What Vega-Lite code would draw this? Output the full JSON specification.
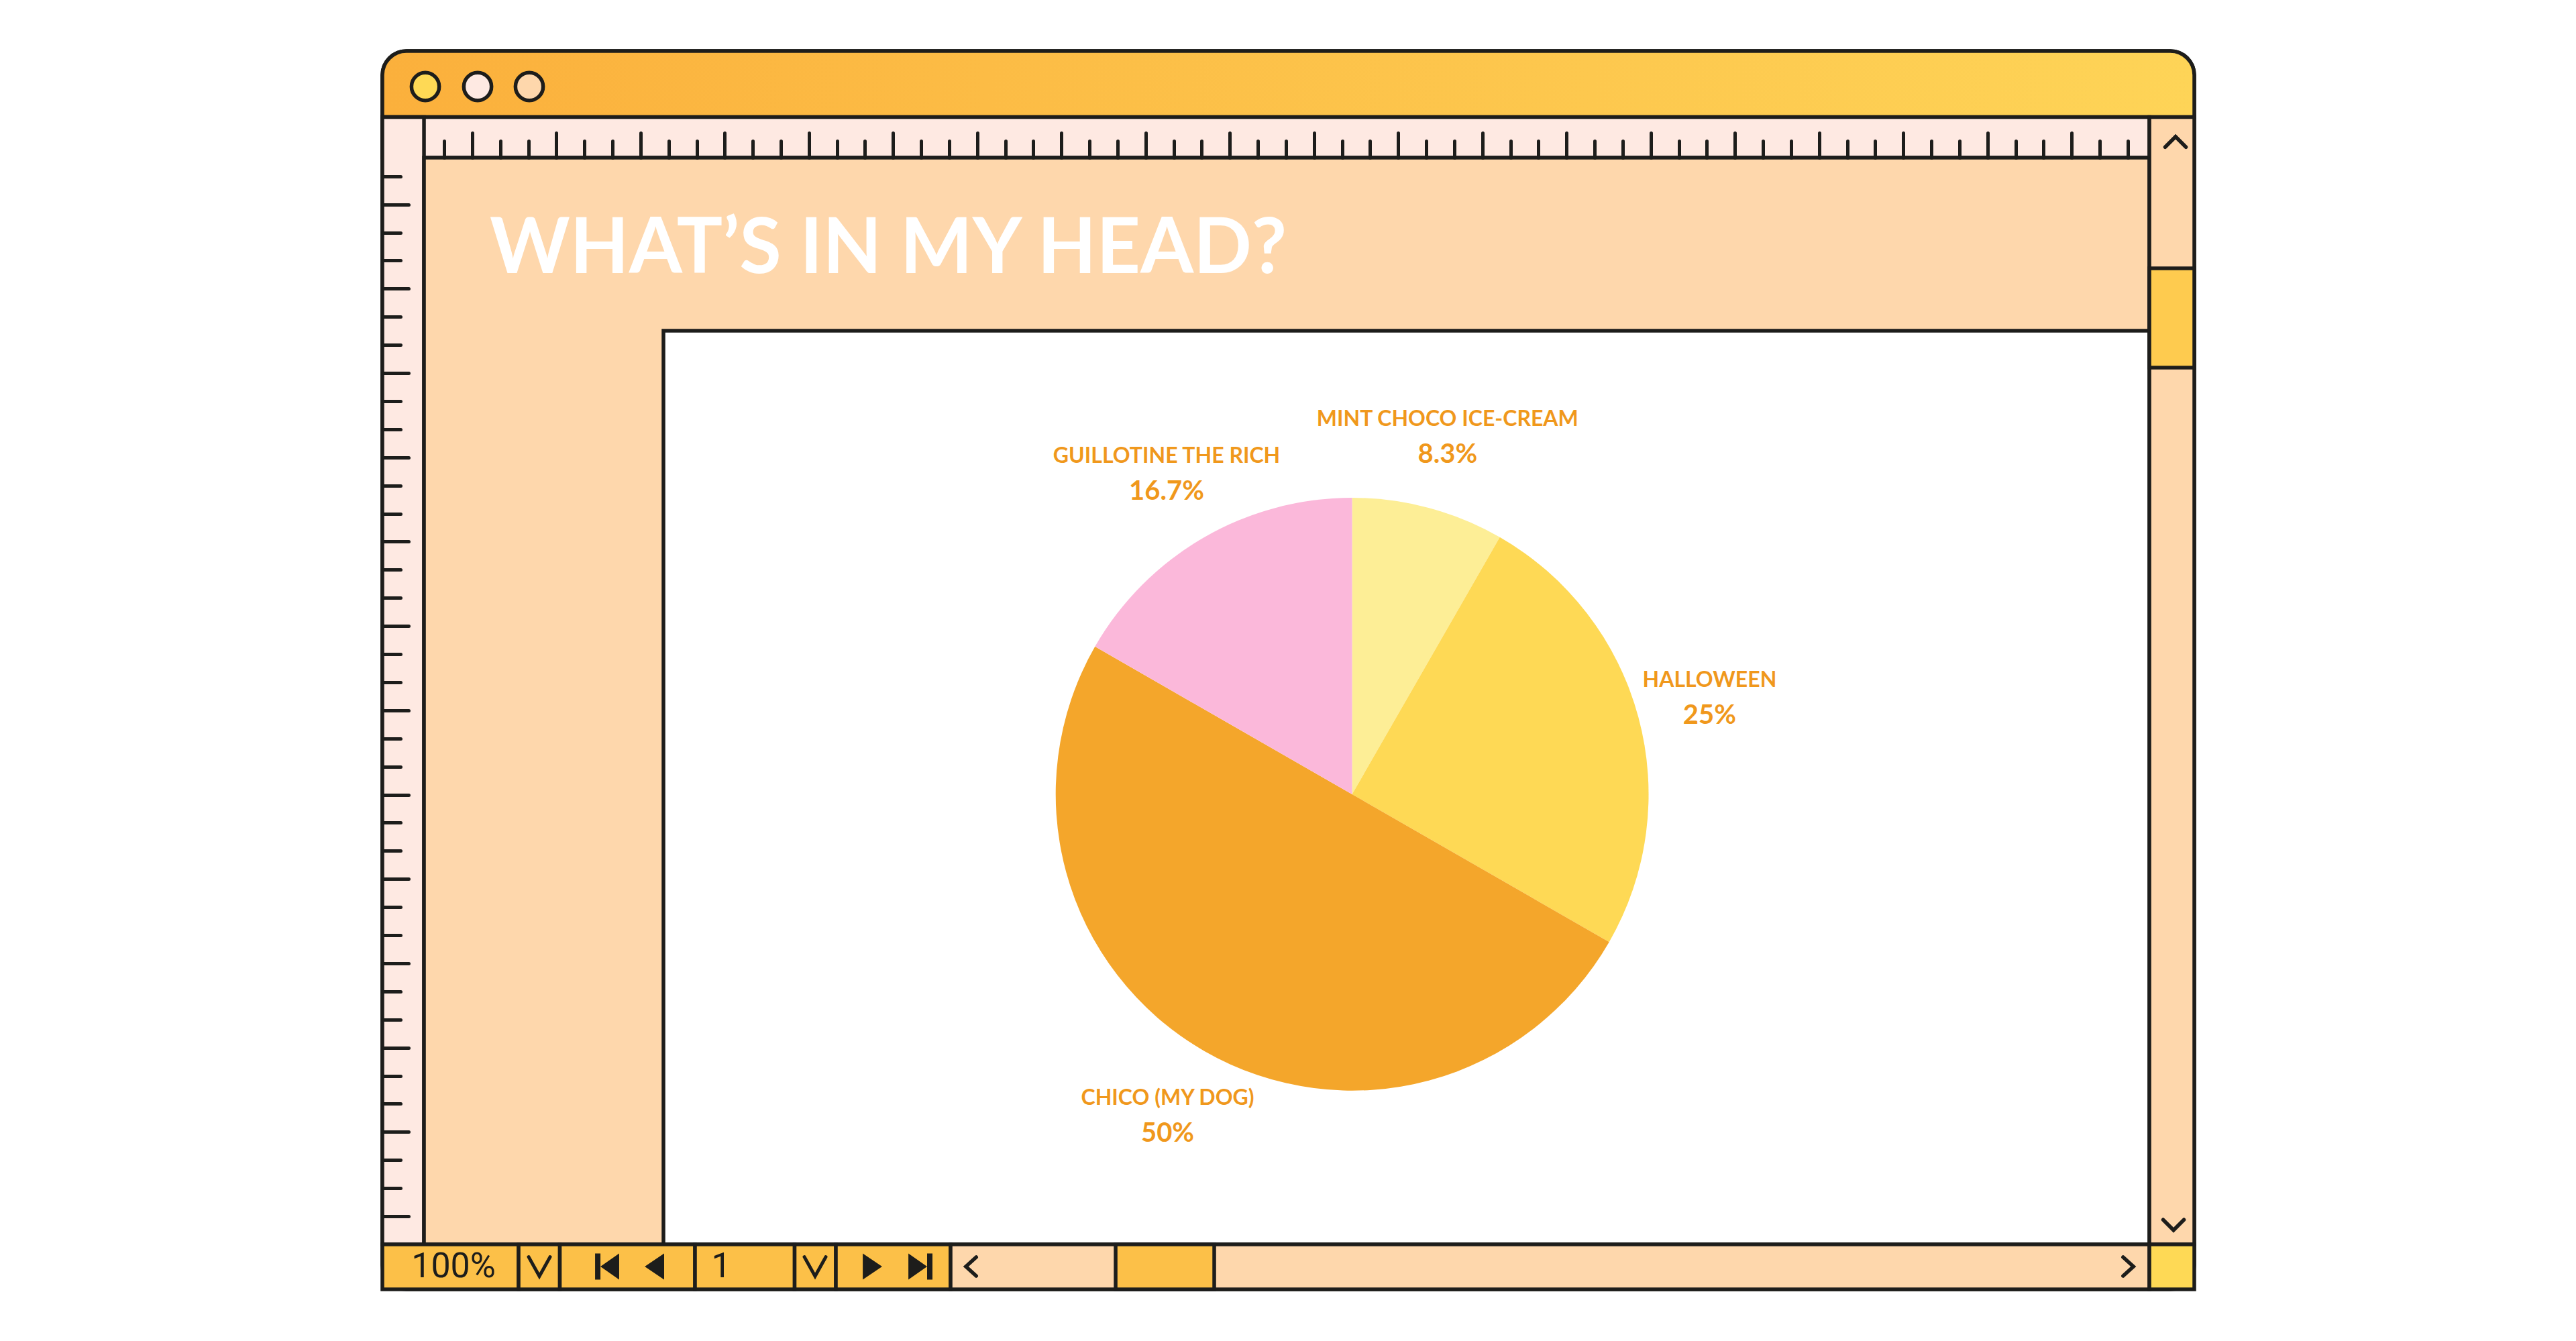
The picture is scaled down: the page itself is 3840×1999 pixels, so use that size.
{
  "$schema": "https://vega.github.io/schema/vega-lite/v6.json",
  "width": 2701,
  "height": 1846,
  "autosize": {"type": "none"},
  "padding": {"left": 570, "top": 76, "right": 569, "bottom": 77},
  "background": "#ffffff",
  "config": {
    "view": {"fill": "#fed7ac", "stroke": "#1d1d1b", "strokeWidth": 5.5, "cornerRadius": 36},
    "axis": {"domain": false, "labels": false, "grid": false, "ticks": true, "tickColor": "#1d1d1b", "tickWidth": 5, "tickCap": "round", "zindex": 1}
  },
  "datasets": {
    "frame": [{}],
    "slices": [
      {"topic": "MINT CHOCO ICE-CREAM", "share": 0.083},
      {"topic": "HALLOWEEN", "share": 0.25},
      {"topic": "CHICO (MY DOG)", "share": 0.5},
      {"topic": "GUILLOTINE THE RICH", "share": 0.167}
    ]
  },
  "layer": [
    {
      "data": {"name": "frame"},
      "mark": {"type": "rect", "fill": {"gradient": "linear", "x1": 0, "y1": 0, "x2": 1, "y2": 0, "stops": [{"offset": 0, "color": "#fbb03c"}, {"offset": 1, "color": "#fed457"}]}, "stroke": "#1d1d1b", "strokeWidth": 5.5, "cornerRadiusTopLeft": 36, "cornerRadiusTopRight": 36},
      "encoding": {
        "x": {"datum": -2.2, "type": "quantitative", "scale": {"domain": [-2.2, 62.37], "nice": false, "zero": false},
          "axis": {"orient": "top", "offset": -159, "title": null, "zindex": 1, "domain": false, "labels": false, "grid": false, "ticks": true,
            "tickColor": "#1d1d1b", "tickWidth": 5, "tickCap": "round",
            "values": [0,1,2,3,4,5,6,7,8,9,10,11,12,13,14,15,16,17,18,19,20,21,22,23,24,25,26,27,28,29,30,31,32,33,34,35,36,37,38,39,40,41,42,43,44,45,46,47,48,49,50,51,52,53,54,55,56,57,58,59,60],
            "tickSize": {"condition": {"test": "datum.value % 3 === 1", "value": 37}, "value": 25}}},
        "x2": {"datum": 62.37},
        "y": {"datum": -4.456, "type": "quantitative", "scale": {"domain": [-4.456, 39.601], "reverse": true, "nice": false, "zero": false},
          "axis": {"orient": "right", "offset": -2701, "title": null, "zindex": 1, "domain": false, "labels": false, "grid": false, "ticks": true,
            "tickColor": "#1d1d1b", "tickWidth": 5, "tickCap": "round",
            "values": [0,1,2,3,4,5,6,7,8,9,10,11,12,13,14,15,16,17,18,19,20,21,22,23,24,25,26,27,28,29,30,31,32,33,34,35,36,37],
            "tickSize": {"condition": {"test": "datum.value % 3 === 1", "value": 39}, "value": 27}}},
        "y2": {"datum": -2.105}
      }
    },
    {"data": {"name": "frame"}, "mark": {"type": "rect", "fill": "#fee9e2", "stroke": "#1d1d1b", "strokeWidth": 5.5},
      "encoding": {"x": {"datum": -2.2, "type": "quantitative"}, "x2": {"datum": 60.77}, "y": {"datum": -2.105, "type": "quantitative"}, "y2": {"datum": -0.661}}},
    {"data": {"name": "frame"}, "mark": {"type": "rect", "fill": "#fee9e2", "stroke": "#1d1d1b", "strokeWidth": 5.5},
      "encoding": {"x": {"datum": -2.2, "type": "quantitative"}, "x2": {"datum": -0.717}, "y": {"datum": -2.105, "type": "quantitative"}, "y2": {"datum": 38.003}}},
    {"data": {"name": "frame"}, "mark": {"type": "rect", "fill": "#fed7ac", "stroke": "#1d1d1b", "strokeWidth": 5.5},
      "encoding": {"x": {"datum": -0.717, "type": "quantitative"}, "x2": {"datum": 60.77}, "y": {"datum": -0.661, "type": "quantitative"}, "y2": {"datum": 38.003}}},
    {"data": {"name": "frame"}, "mark": {"type": "rect", "fill": "#ffffff", "stroke": "#1d1d1b", "strokeWidth": 5.5},
      "encoding": {"x": {"datum": 7.817, "type": "quantitative"}, "x2": {"datum": 60.77}, "y": {"datum": 5.496, "type": "quantitative"}, "y2": {"datum": 38.003}}},
    {"data": {"name": "frame"}, "mark": {"type": "rect", "fill": "#fed7ac", "stroke": "#1d1d1b", "strokeWidth": 5.5},
      "encoding": {"x": {"datum": 60.77, "type": "quantitative"}, "x2": {"datum": 62.37}, "y": {"datum": -2.105, "type": "quantitative"}, "y2": {"datum": 38.003}}},
    {"data": {"name": "frame"}, "mark": {"type": "rect", "fill": "#fecb4f", "stroke": "#1d1d1b", "strokeWidth": 5.5},
      "encoding": {"x": {"datum": 60.77, "type": "quantitative"}, "x2": {"datum": 62.37}, "y": {"datum": 3.277, "type": "quantitative"}, "y2": {"datum": 6.809}}},
    {"data": {"name": "frame"}, "mark": {"type": "rect", "fill": "#fcc048", "stroke": "#1d1d1b", "strokeWidth": 5.5},
      "encoding": {"x": {"datum": -2.2, "type": "quantitative"}, "x2": {"datum": 2.654}, "y": {"datum": 38.003, "type": "quantitative"}, "y2": {"datum": 39.601}}},
    {"data": {"name": "frame"}, "mark": {"type": "rect", "fill": "#fcc048", "stroke": "#1d1d1b", "strokeWidth": 5.5},
      "encoding": {"x": {"datum": 2.654, "type": "quantitative"}, "x2": {"datum": 4.124}, "y": {"datum": 38.003, "type": "quantitative"}, "y2": {"datum": 39.601}}},
    {"data": {"name": "frame"}, "mark": {"type": "rect", "fill": "#fcc048", "stroke": "#1d1d1b", "strokeWidth": 5.5},
      "encoding": {"x": {"datum": 4.124, "type": "quantitative"}, "x2": {"datum": 8.941}, "y": {"datum": 38.003, "type": "quantitative"}, "y2": {"datum": 39.601}}},
    {"data": {"name": "frame"}, "mark": {"type": "rect", "fill": "#fcc048", "stroke": "#1d1d1b", "strokeWidth": 5.5},
      "encoding": {"x": {"datum": 8.941, "type": "quantitative"}, "x2": {"datum": 12.491}, "y": {"datum": 38.003, "type": "quantitative"}, "y2": {"datum": 39.601}}},
    {"data": {"name": "frame"}, "mark": {"type": "rect", "fill": "#fcc048", "stroke": "#1d1d1b", "strokeWidth": 5.5},
      "encoding": {"x": {"datum": 12.491, "type": "quantitative"}, "x2": {"datum": 13.961}, "y": {"datum": 38.003, "type": "quantitative"}, "y2": {"datum": 39.601}}},
    {"data": {"name": "frame"}, "mark": {"type": "rect", "fill": "#fcc048", "stroke": "#1d1d1b", "strokeWidth": 5.5},
      "encoding": {"x": {"datum": 13.961, "type": "quantitative"}, "x2": {"datum": 18.049}, "y": {"datum": 38.003, "type": "quantitative"}, "y2": {"datum": 39.601}}},
    {"data": {"name": "frame"}, "mark": {"type": "rect", "fill": "#fed7ac", "stroke": "#1d1d1b", "strokeWidth": 5.5},
      "encoding": {"x": {"datum": 18.049, "type": "quantitative"}, "x2": {"datum": 60.77}, "y": {"datum": 38.003, "type": "quantitative"}, "y2": {"datum": 39.601}}},
    {"data": {"name": "frame"}, "mark": {"type": "rect", "fill": "#fcc048", "stroke": "#1d1d1b", "strokeWidth": 5.5},
      "encoding": {"x": {"datum": 23.93, "type": "quantitative"}, "x2": {"datum": 27.444}, "y": {"datum": 38.003, "type": "quantitative"}, "y2": {"datum": 39.601}}},
    {"data": {"name": "frame"}, "mark": {"type": "rect", "fill": "#fed955", "stroke": "#1d1d1b", "strokeWidth": 5.5},
      "encoding": {"x": {"datum": 60.77, "type": "quantitative"}, "x2": {"datum": 62.37}, "y": {"datum": 38.003, "type": "quantitative"}, "y2": {"datum": 39.601}}},
    {"data": {"name": "frame"}, "mark": {"type": "point", "shape": "circle", "filled": true, "fill": "#fed955", "stroke": "#1d1d1b", "strokeWidth": 5.5, "size": 1705, "opacity": 1},
      "encoding": {"x": {"datum": -0.669, "type": "quantitative"}, "y": {"datum": -3.191, "type": "quantitative"}}},
    {"data": {"name": "frame"}, "mark": {"type": "point", "shape": "circle", "filled": true, "fill": "#fee9e2", "stroke": "#1d1d1b", "strokeWidth": 5.5, "size": 1705, "opacity": 1},
      "encoding": {"x": {"datum": 1.195, "type": "quantitative"}, "y": {"datum": -3.191, "type": "quantitative"}}},
    {"data": {"name": "frame"}, "mark": {"type": "point", "shape": "circle", "filled": true, "fill": "#fed7ac", "stroke": "#1d1d1b", "strokeWidth": 5.5, "size": 1705, "opacity": 1},
      "encoding": {"x": {"datum": 3.036, "type": "quantitative"}, "y": {"datum": -3.191, "type": "quantitative"}}},
    {"data": {"name": "frame"}, "mark": {"type": "text", "text": "WHAT’S IN MY HEAD?", "font": "Lato", "fontWeight": "bold", "fontSize": 114, "fill": "#ffffff", "align": "left", "baseline": "alphabetic"},
      "encoding": {"x": {"datum": 1.626, "type": "quantitative"}, "y": {"datum": 3.444, "type": "quantitative"}}},
    {"data": {"name": "frame"}, "mark": {"type": "text", "text": "100%", "font": "Roboto", "fontSize": 52, "fill": "#1d1d1b", "align": "center", "baseline": "middle"},
      "encoding": {"x": {"datum": 0.335, "type": "quantitative"}, "y": {"datum": 38.79, "type": "quantitative"}}},
    {"data": {"name": "frame"}, "mark": {"type": "text", "text": "1", "font": "Roboto", "fontSize": 52, "fill": "#1d1d1b", "align": "center", "baseline": "middle"},
      "encoding": {"x": {"datum": 9.873, "type": "quantitative"}, "y": {"datum": 38.79, "type": "quantitative"}}},
    {"data": {"name": "frame"}, "mark": {"type": "point", "shape": "M-1,-0.9L0,0.9L1,-0.9", "filled": false, "stroke": "#1d1d1b", "strokeWidth": 5, "strokeCap": "round", "size": 1024, "opacity": 1},
      "encoding": {"x": {"datum": 3.395, "type": "quantitative"}, "y": {"datum": 38.79, "type": "quantitative"}}},
    {"data": {"name": "frame"}, "mark": {"type": "point", "shape": "M-1,-0.9L0,0.9L1,-0.9", "filled": false, "stroke": "#1d1d1b", "strokeWidth": 5, "strokeCap": "round", "size": 1024, "opacity": 1},
      "encoding": {"x": {"datum": 13.22, "type": "quantitative"}, "y": {"datum": 38.79, "type": "quantitative"}}},
    {"data": {"name": "frame"}, "mark": {"type": "point", "shape": "M0.55,-1L-0.55,0L0.55,1", "filled": false, "stroke": "#1d1d1b", "strokeWidth": 5.5, "strokeCap": "round", "size": 784, "opacity": 1},
      "encoding": {"x": {"datum": 18.778, "type": "quantitative"}, "y": {"datum": 38.79, "type": "quantitative"}}},
    {"data": {"name": "frame"}, "mark": {"type": "point", "shape": "M-0.55,-1L0.55,0L-0.55,1", "filled": false, "stroke": "#1d1d1b", "strokeWidth": 5.5, "strokeCap": "round", "size": 784, "opacity": 1},
      "encoding": {"x": {"datum": 60.017, "type": "quantitative"}, "y": {"datum": 38.79, "type": "quantitative"}}},
    {"data": {"name": "frame"}, "mark": {"type": "point", "shape": "M-1,0.5L0,-0.5L1,0.5", "filled": false, "stroke": "#1d1d1b", "strokeWidth": 5.5, "strokeCap": "round", "size": 961, "opacity": 1},
      "encoding": {"x": {"datum": 61.702, "type": "quantitative"}, "y": {"datum": -1.222, "type": "quantitative"}}},
    {"data": {"name": "frame"}, "mark": {"type": "point", "shape": "M-1,-0.5L0,0.5L1,-0.5", "filled": false, "stroke": "#1d1d1b", "strokeWidth": 5.5, "strokeCap": "round", "size": 961, "opacity": 1},
      "encoding": {"x": {"datum": 61.63, "type": "quantitative"}, "y": {"datum": 37.31, "type": "quantitative"}}},
    {"data": {"name": "frame"}, "mark": {"type": "point", "shape": "M-0.92,-1H-0.51V1H-0.92ZM-0.51,0L0.92,-1L0.92,1Z", "filled": true, "fill": "#1d1d1b", "strokeWidth": 0, "size": 1521, "opacity": 1},
      "encoding": {"x": {"datum": 5.809, "type": "quantitative"}, "y": {"datum": 38.79, "type": "quantitative"}}},
    {"data": {"name": "frame"}, "mark": {"type": "point", "shape": "M-0.74,0L0.74,-1L0.74,1Z", "filled": true, "fill": "#1d1d1b", "strokeWidth": 0, "size": 1521, "opacity": 1},
      "encoding": {"x": {"datum": 7.495, "type": "quantitative"}, "y": {"datum": 38.79, "type": "quantitative"}}},
    {"data": {"name": "frame"}, "mark": {"type": "point", "shape": "M0.74,0L-0.74,-1L-0.74,1Z", "filled": true, "fill": "#1d1d1b", "strokeWidth": 0, "size": 1521, "opacity": 1},
      "encoding": {"x": {"datum": 15.264, "type": "quantitative"}, "y": {"datum": 38.79, "type": "quantitative"}}},
    {"data": {"name": "frame"}, "mark": {"type": "point", "shape": "M0.92,-1H0.51V1H0.92ZM0.51,0L-0.92,-1L-0.92,1Z", "filled": true, "fill": "#1d1d1b", "strokeWidth": 0, "size": 1521, "opacity": 1},
      "encoding": {"x": {"datum": 16.974, "type": "quantitative"}, "y": {"datum": 38.79, "type": "quantitative"}}},
    {
      "data": {"name": "slices"},
      "transform": [{"window": [{"op": "row_number", "as": "idx"}]}],
      "encoding": {
        "theta": {"field": "share", "type": "quantitative", "stack": true},
        "order": {"field": "idx", "type": "quantitative"},
        "x": {"datum": 32.357, "type": "quantitative"},
        "y": {"datum": 21.988, "type": "quantitative"}
      },
      "layer": [
        {"mark": {"type": "arc", "outerRadius": 442},
          "encoding": {"color": {"field": "topic", "type": "nominal", "legend": null,
            "scale": {"domain": ["MINT CHOCO ICE-CREAM", "HALLOWEEN", "CHICO (MY DOG)", "GUILLOTINE THE RICH"], "range": ["#fdee96", "#fed955", "#f4a62b", "#fbb8da"]}}}},
        {"mark": {"type": "text", "radius": 552, "dy": -26, "font": "Lato", "fontWeight": "bold", "fontSize": 32, "fill": "#f0981c", "align": "center", "baseline": "middle"},
          "encoding": {"text": {"field": "topic", "type": "nominal"}}},
        {"mark": {"type": "text", "radius": 552, "dy": 27, "font": "Lato", "fontWeight": "bold", "fontSize": 40, "fill": "#f0981c", "align": "center", "baseline": "middle"},
          "encoding": {"text": {"field": "share", "type": "quantitative", "format": ".1~%"}}}
      ]
    }
  ]
}
